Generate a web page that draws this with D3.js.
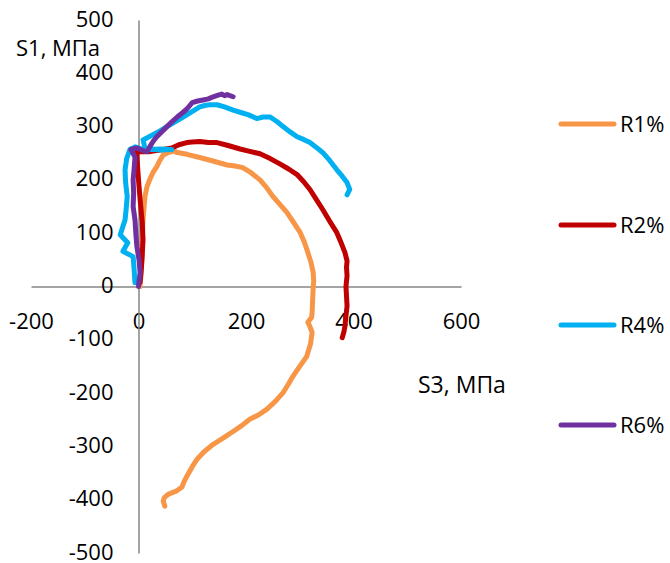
<!DOCTYPE html>
<html>
<head>
<meta charset="utf-8">
<script src="https://cdn.jsdelivr.net/npm/d3@7/dist/d3.min.js"></script>
<style>
  html, body { margin: 0; padding: 0; background: #fff; }
  svg { display: block; }
  text { font-family: "Open Sans", Lato, sans-serif; fill: #000; }
</style>
</head>
<body>
<svg id="chart" width="670" height="563"></svg>
<script>
// ---- data (S3, S1 in MPa) ----
const seriesNames = ["R1%", "R2%", "R4%", "R6%"];
const seriesColors = ["#F79646", "#C00000", "#00B0F0", "#7030A0"];

const r1 = [
  [3,0],[5,30],[6.5,60],[7,95],[8.4,125],[12,169],[16,188],[21,201],[27,214],[34,225],[40,237],[46,247],
  [55,251],[62,253],[66,256],[70,252],[75,251],[90,248],[114,242],[140,235],[165,228],[180,226],
  [194,223],[210,213],[226,200],[238,186],[250,169],[263,154],[276,139],[288,121],[301,101],[309,82],
  [315,64],[321,45],[325,26],[326,10],[325,-2],[324,-25],[323,-49],[322,-58],[315,-67],[318,-73],
  [323,-86],[320,-108],[313,-131],[300,-150],[293,-160],[287,-169],[279,-183],[269,-199],[255,-215],
  [239,-230],[223,-241],[207,-249],[192,-261],[176,-272],[158,-284],[139,-296],[122,-310],[109,-324],
  [100,-338],[90,-356],[84,-368],[81,-376],[70,-384],[55,-390],[48,-396],[46,-403],[49,-412]
];
const r2 = [
  [3,8],[5,30],[6.5,51],[8.4,88],[7,120],[3,163],[0,200],[-3,243],[-3,253],[10,253],[21,253],
  [40,256],[62,260],[75,266],[90,270],[100,271],[114,272],[130,270],[146,270],[165,265],[189,258],
  [205,254],[226,249],[245,240],[263,230],[280,220],[295,210],[307,197],[319,182],[331,163],[343,144],
  [356,122],[369,101],[377,82],[384,64],[388,48],[387,36],[388,20],[386,0],[387,-18],[388,-37],
  [386,-55],[384,-75],[382,-86],[379,-96]
];
const r4 = [
  [-6.5,7],[-8,30],[-10,56],[-29,66],[-20,82],[-34,97],[-25,125],[-23,145],[-21,169],[-24,195],
  [-25,219],[-22,240],[-16,257],[-6.5,262],[5,258],[21,257],[40,258],[62,257],[40,256],[20,258],[12,260],
  [8.4,275],[18,280],[27,285],[40,292],[53,300],[68,309],[83,318],[98,327],[114,337],[125,340],
  [133,341],[146,341],[160,337],[176,331],[192,326],[205,322],[220,315],[232,318],[245,318],[258,309],
  [269,300],[282,290],[295,281],[307,276],[319,270],[331,261],[343,251],[356,236],[369,219],[379,207],
  [388,195],[393,182],[388,172]
];
const r6 = [
  [0,0],[3,26],[1,50],[-3,75],[-5,100],[-6.5,125],[-10,150],[-9,175],[-10,200],[-8,222],[-6.5,243],
  [-14,257],[-3,260],[8,255],[16,253],[21,262],[27,272],[34,281],[44,291],[53,300],[62,309],[72,318],
  [82,326],[90,333],[100,345],[110,348],[120,350],[130,352],[139,356],[148,359],[155,361],[160,358],
  [165,360],[176,356]
];
const seriesData = [r1, r2, r4, r6];

const xTicks = [-200, 0, 200, 400, 600];
const yTicks = [-500, -400, -300, -200, -100, 0, 100, 200, 300, 400, 500];
const xTitle = "S3, МПа";
const yTitle = "S1, МПа";

// ---- layout ----
const svg = d3.select("#chart");
const x = d3.scaleLinear().domain([-200, 600]).range([31, 461]);
const y = d3.scaleLinear().domain([-500, 500]).range([553, 20]);

const axisColor = "#868686";
const fmt = d => String(d);   // hyphen-minus like the reference
const fs = 22;

// x axis (crossing at y=0), labels placed low
const xAxis = d3.axisBottom(x).tickValues(xTicks).tickSize(0).tickPadding(0).tickFormat(fmt);
const gx = svg.append("g").attr("transform", `translate(0,${y(0)})`).call(xAxis);
gx.select(".domain").attr("stroke", axisColor).attr("stroke-width", 1.5);
gx.selectAll("text").attr("font-size", fs).attr("dy", null)
  .attr("y", 42).attr("font-family", null).attr("fill", "#000");

// y axis (crossing at x=0)
const yAxis = d3.axisLeft(y).tickValues(yTicks).tickSize(0).tickPadding(0).tickFormat(fmt);
const gy = svg.append("g").attr("transform", `translate(${x(0)},0)`).call(yAxis);
gy.select(".domain").attr("stroke", axisColor).attr("stroke-width", 1.5);
gy.selectAll("text").attr("font-size", fs).attr("dy", null)
  .attr("x", -25).attr("y", 6).attr("font-family", null).attr("fill", "#000");

// axis titles
svg.append("text").attr("x", 16).attr("y", 56)
  .attr("font-size", 22).text(yTitle);
svg.append("text").attr("x", 418).attr("y", 393)
  .attr("font-size", 23).text(xTitle);

// series lines
const line = d3.line().x(d => x(d[0])).y(d => y(d[1]));
seriesData.forEach((data, i) => {
  svg.append("path").datum(data)
    .attr("d", line)
    .attr("fill", "none")
    .attr("stroke", seriesColors[i])
    .attr("stroke-width", 5)
    .attr("stroke-linejoin", "round")
    .attr("stroke-linecap", "round");
});

// legend
const legendY = [124, 225, 325, 425];
const lg = svg.append("g");
seriesNames.forEach((name, i) => {
  lg.append("line").attr("x1", 561).attr("x2", 614)
    .attr("y1", legendY[i]).attr("y2", legendY[i])
    .attr("stroke", seriesColors[i]).attr("stroke-width", 5).attr("stroke-linecap", "round");
  lg.append("text").attr("x", 620).attr("y", legendY[i] + 8)
    .attr("font-size", fs).text(name);
});
</script>
</body>
</html>
